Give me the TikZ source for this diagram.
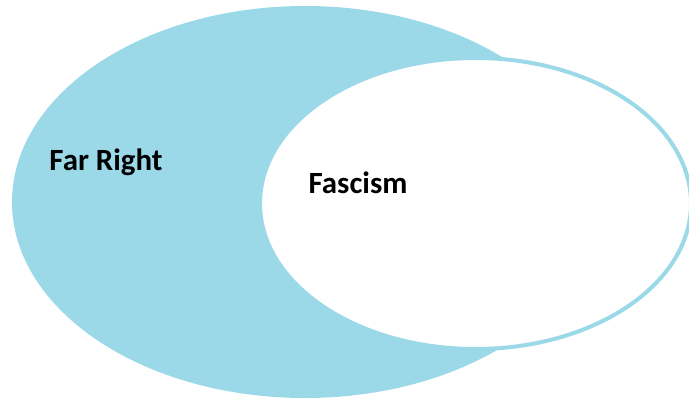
\documentclass[tikz,border=0pt]{standalone}
\usepackage{fontspec}
\setmainfont{Carlito}
\definecolor{setblue}{RGB}{155,217,233}
\tikzset{
  setlabel/.style={font=\fontsize{31}{34}\selectfont\bfseries, text=black, inner sep=0pt}
}
\begin{document}
\begin{tikzpicture}[x=1bp,y=1bp]
      \useasboundingbox (0,0) rectangle (689,400);
      \fill[setblue] (305,198) ellipse [x radius=293, y radius=196];
      \draw[setblue, line width=4bp, fill=white] (475.5,196.5) ellipse [x radius=215.5, y radius=145.5];
      \node[setlabel] (farright) at (106,238) {Far Right};
      \node[setlabel] (fascism) at (358,217) {Fascism};
    \end{tikzpicture}
\end{document}
